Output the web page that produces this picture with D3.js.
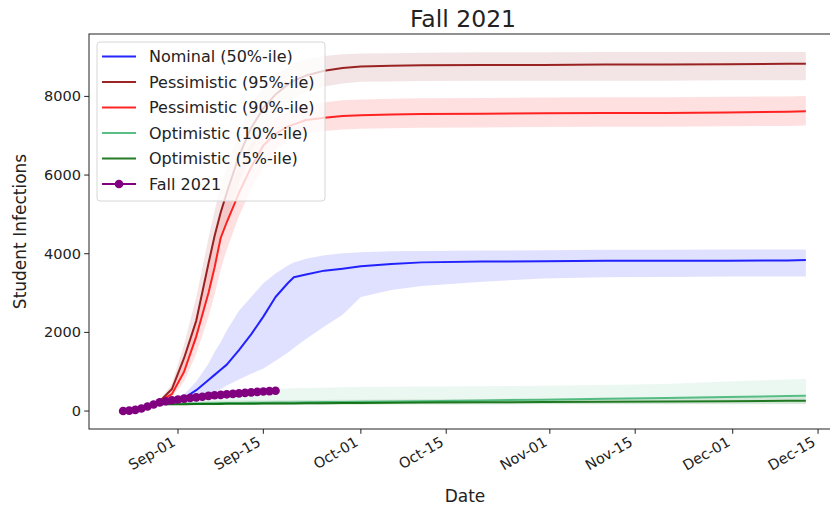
<!DOCTYPE html>
<html>
<head>
<meta charset="utf-8">
<script src="https://cdn.jsdelivr.net/npm/d3@7"></script>
<style>
  body { margin: 0; background: #fff; }
  svg { display: block; font-family: "DejaVu Sans", sans-serif; }
</style>
</head>
<body>
<div id="chart"></div>
<script>
// simulation output dates
const simDates = ["2021-08-29","2021-08-31","2021-09-02","2021-09-04","2021-09-06","2021-09-07","2021-09-08",
  "2021-09-09","2021-09-11","2021-09-13","2021-09-15","2021-09-17","2021-09-19","2021-09-20","2021-09-22",
  "2021-09-25","2021-09-28","2021-10-01","2021-10-06","2021-10-11","2021-10-21","2021-10-31","2021-11-10",
  "2021-11-20","2021-11-30","2021-12-10","2021-12-13"];

const nominal    = [250,270,330,530,790,920,1050,1180,1550,1950,2400,2900,3250,3400,3470,3570,3620,3680,3740,3780,3800,3810,3820,3820,3820,3830,3840];
const nominalHi  = [260,300,430,750,1200,1500,1750,2050,2550,2900,3250,3500,3700,3780,3870,3960,4010,4040,4060,4070,4080,4090,4100,4100,4110,4110,4110];
const nominalLo  = [240,240,250,320,420,480,560,650,800,950,1080,1280,1480,1600,1830,2150,2450,2900,3080,3180,3290,3370,3400,3410,3420,3420,3420];

const pess95     = [250,560,1350,2300,3750,4450,5050,5550,6480,7200,7700,8050,8300,8400,8530,8650,8720,8760,8780,8790,8800,8800,8810,8810,8820,8830,8830];
const pess95Hi   = [270,700,1700,2900,4400,5100,5700,6200,7100,7800,8250,8550,8750,8850,8950,9030,9070,9090,9100,9110,9120,9120,9130,9130,9130,9130,9130];
const pess95Lo   = [230,450,1050,1800,3000,3700,4300,4800,5800,6600,7150,7550,7850,7950,8100,8250,8330,8370,8380,8390,8400,8400,8400,8400,8410,8410,8410];

const pess90     = [250,430,1000,1900,3000,3650,4400,4800,5550,6200,6750,7050,7230,7290,7400,7460,7500,7520,7540,7550,7560,7570,7580,7580,7590,7610,7620];
const pess90Hi   = [270,550,1300,2400,3700,4400,5100,5500,6200,6800,7200,7480,7640,7700,7780,7850,7900,7920,7940,7950,7960,7970,7980,7980,7990,8000,8010];
const pess90Lo   = [230,350,750,1450,2400,2950,3600,4100,4950,5650,6200,6650,6880,6950,7050,7120,7160,7180,7190,7200,7210,7220,7230,7230,7240,7250,7260];

const opt10      = [180,185,190,195,198,200,202,204,207,210,213,216,219,220,223,227,231,235,243,252,270,290,310,330,355,380,390];
const opt10Hi    = [220,300,380,440,480,500,510,520,535,545,555,565,575,580,585,595,605,612,620,625,630,640,660,690,750,800,813];
const opt10Lo    = [150,152,155,157,158,159,160,160,161,162,163,164,165,165,166,167,168,169,170,172,175,178,180,182,184,186,188];

const opt5       = [170,172,175,178,180,181,182,183,185,187,189,191,193,194,196,199,202,205,210,215,222,230,238,245,252,259,262];
const opt5Hi     = [200,215,230,245,255,258,260,262,265,268,271,274,277,278,280,284,287,290,295,300,307,315,323,330,340,350,355];
const opt5Lo     = [140,142,145,147,149,150,151,152,153,154,155,156,157,158,159,160,161,162,164,166,168,170,171,172,173,174,175];

// observed counts
const fallDates = ["2021-08-23","2021-08-24","2021-08-25","2021-08-26","2021-08-27","2021-08-28","2021-08-29",
  "2021-08-30","2021-08-31","2021-09-01","2021-09-02","2021-09-03","2021-09-04","2021-09-05","2021-09-06",
  "2021-09-07","2021-09-08","2021-09-09","2021-09-10","2021-09-11","2021-09-12","2021-09-13","2021-09-14",
  "2021-09-15","2021-09-16","2021-09-17"];
const fallValues = [0,10,30,65,115,165,220,250,275,295,315,332,348,365,385,400,412,425,437,450,462,475,487,497,506,515];

const xTickDates = ["2021-09-01","2021-09-15","2021-10-01","2021-10-15","2021-11-01","2021-11-15","2021-12-01","2021-12-15"];
const yTicks = [0, 2000, 4000, 6000, 8000];

const parse = d3.timeParse("%Y-%m-%d");
const fmt = d3.timeFormat("%b-%d");

const series = [
  {label: "Nominal (50%-ile)",     color: "blue",           mid: nominal, hi: nominalHi, lo: nominalLo, bandOpacity: 0.12},
  {label: "Pessimistic (95%-ile)", color: "darkred",        mid: pess95,  hi: pess95Hi,  lo: pess95Lo,  bandOpacity: 0.1},
  {label: "Pessimistic (90%-ile)", color: "red",            mid: pess90,  hi: pess90Hi,  lo: pess90Lo,  bandOpacity: 0.12},
  {label: "Optimistic (10%-ile)",  color: "mediumseagreen", mid: opt10,   hi: opt10Hi,   lo: opt10Lo,   bandOpacity: 0.1},
  {label: "Optimistic (5%-ile)",   color: "darkgreen",      mid: opt5,    hi: opt5Hi,    lo: opt5Lo,    bandOpacity: 0.1}
];

const width = 830, height = 506;
const plotL = 89, plotR = 840, plotT = 34, plotB = 429;

const sd = simDates.map(parse);
const fd = fallDates.map(parse);

// matplotlib style 5% margins
const xExt = d3.extent(sd.concat(fd));
const xPad = (xExt[1] - xExt[0]) * 0.05;
const allY = fallValues.concat(...series.map(s => s.hi.concat(s.lo)));
const yExt = d3.extent(allY);
const yPad = (yExt[1] - yExt[0]) * 0.05;

const x = d3.scaleTime()
    .domain([new Date(+xExt[0] - xPad), new Date(+xExt[1] + xPad)])
    .range([plotL, plotR]);
const y = d3.scaleLinear()
    .domain([yExt[0] - yPad, yExt[1] + yPad])
    .range([plotB, plotT]);

const svg = d3.select("#chart").append("svg")
    .attr("width", width)
    .attr("height", height);

const plot = svg.append("g");

// bands
series.forEach(s => {
  const area = d3.area()
      .x((d, i) => x(sd[i]))
      .y0((d, i) => y(s.lo[i]))
      .y1((d, i) => y(s.hi[i]));
  plot.append("path")
      .attr("fill", s.color)
      .attr("fill-opacity", s.bandOpacity)
      .attr("d", area(s.mid));
});

// median lines
series.forEach(s => {
  const line = d3.line()
      .x((d, i) => x(sd[i]))
      .y(d => y(d));
  plot.append("path")
      .attr("fill", "none")
      .attr("stroke", s.color)
      .attr("stroke-opacity", 0.85)
      .attr("stroke-width", 2)
      .attr("stroke-linejoin", "round")
      .attr("d", line(s.mid));
});

// observed
const fallLine = d3.line().x((d, i) => x(fd[i])).y(d => y(d));
plot.append("path")
    .attr("fill", "none")
    .attr("stroke", "purple")
    .attr("stroke-width", 2)
    .attr("d", fallLine(fallValues));
plot.selectAll("circle.fall")
  .data(fallValues)
  .join("circle")
    .attr("class", "fall")
    .attr("cx", (d, i) => x(fd[i]))
    .attr("cy", d => y(d))
    .attr("r", 4.3)
    .attr("fill", "purple");

// axes frame
svg.append("rect")
    .attr("x", plotL).attr("y", plotT)
    .attr("width", plotR - plotL).attr("height", plotB - plotT)
    .attr("fill", "none")
    .attr("stroke", "#222")
    .attr("stroke-width", 1);

// y axis
const yAxis = svg.append("g");
yTicks.forEach(t => {
  yAxis.append("line")
      .attr("x1", plotL - 4.8).attr("x2", plotL)
      .attr("y1", y(t)).attr("y2", y(t))
      .attr("stroke", "#222");
  yAxis.append("text")
      .attr("x", plotL - 8)
      .attr("y", y(t))
      .attr("dy", "0.35em")
      .attr("text-anchor", "end")
      .attr("font-size", 14.5)
      .attr("fill", "#222")
      .text(t);
});

// x axis
const xAxis = svg.append("g");
xTickDates.map(parse).forEach(t => {
  xAxis.append("line")
      .attr("x1", x(t)).attr("x2", x(t))
      .attr("y1", plotB).attr("y2", plotB + 4.8)
      .attr("stroke", "#222");
  xAxis.append("text")
      .attr("transform", `translate(${x(t) - 1.5},${plotB + 16}) rotate(-30)`)
      .attr("text-anchor", "end")
      .attr("font-size", 14.5)
      .attr("fill", "#222")
      .text(fmt(t));
});

// labels
svg.append("text")
    .attr("x", 463).attr("y", 27)
    .attr("text-anchor", "middle")
    .attr("font-size", 23.5)
    .attr("fill", "#222")
    .text("Fall 2021");
svg.append("text")
    .attr("x", 465).attr("y", 502)
    .attr("text-anchor", "middle")
    .attr("font-size", 17)
    .attr("fill", "#222")
    .text("Date");
svg.append("text")
    .attr("transform", `translate(26,${(plotT + plotB) / 2}) rotate(-90)`)
    .attr("text-anchor", "middle")
    .attr("font-size", 17)
    .attr("fill", "#222")
    .text("Student Infections");

// legend
const legendItems = series.map(s => ({label: s.label, color: s.color, marker: false}))
  .concat([{label: "Fall 2021", color: "purple", marker: true}]);

const lg = svg.append("g").attr("transform", "translate(97,42)");
lg.append("rect")
    .attr("width", 228).attr("height", 159)
    .attr("rx", 3)
    .attr("fill", "white").attr("fill-opacity", 0.8)
    .attr("stroke", "#d6d6d6");
legendItems.forEach((d, i) => {
  const cy = 14.5 + i * 25.5;
  lg.append("line")
      .attr("x1", 5).attr("x2", 39)
      .attr("y1", cy).attr("y2", cy)
      .attr("stroke", d.color)
      .attr("stroke-opacity", d.marker ? 1 : 0.85)
      .attr("stroke-width", 2);
  if (d.marker) {
    lg.append("circle").attr("cx", 22).attr("cy", cy).attr("r", 4.3).attr("fill", d.color);
  }
  lg.append("text")
      .attr("x", 52).attr("y", cy)
      .attr("dy", "0.35em")
      .attr("font-size", 16)
      .attr("fill", "#222")
      .text(d.label);
});
</script>
</body>
</html>
